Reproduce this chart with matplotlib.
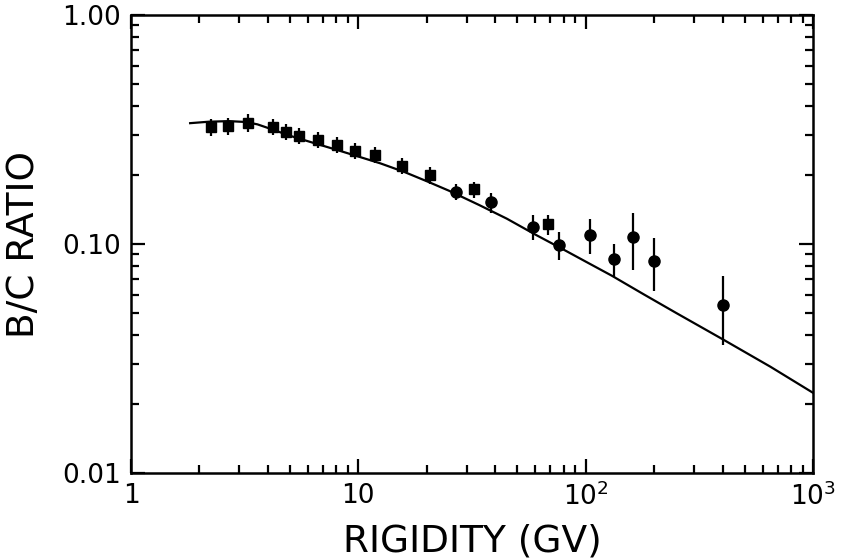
import matplotlib
matplotlib.use("Agg")
import matplotlib.pyplot as plt
from matplotlib.ticker import FixedLocator, FixedFormatter, LogLocator, NullFormatter

# Square-marker data (rigidity GV, B/C ratio, error)
sq_rigidity = [2.25, 2.68, 3.28, 4.2, 4.81, 5.48, 6.63, 8.03, 9.7, 11.8, 15.5, 20.7, 32.3, 68.5]
sq_ratio = [0.323, 0.328, 0.339, 0.325, 0.309, 0.296, 0.285, 0.271, 0.255, 0.245, 0.220, 0.200, 0.173, 0.122]
sq_err = [0.028, 0.028, 0.031, 0.027, 0.025, 0.024, 0.022, 0.021, 0.020, 0.020, 0.018, 0.017, 0.014, 0.012]

# Circle-marker data
ci_rigidity = [26.9, 38.2, 58.5, 76.6, 104.5, 133, 161.5, 200.6, 402]
ci_ratio = [0.169, 0.152, 0.119, 0.099, 0.109, 0.086, 0.107, 0.0845, 0.0542]
ci_err = [0.014, 0.015, 0.015, 0.014, 0.019, 0.014, 0.030, 0.022, 0.018]

# Model curve
curve_rigidity = [1.82, 2.2, 2.7, 3.2, 3.6, 4.2, 5, 6.3, 8, 10, 12.5, 16, 20, 25, 34, 45,
                  60, 80, 100, 130, 180, 250, 400, 650, 1000]
curve_ratio = [0.337, 0.342, 0.344, 0.341, 0.333, 0.316, 0.297, 0.277, 0.258, 0.241, 0.225,
               0.206, 0.188, 0.171, 0.148, 0.129, 0.110, 0.0945, 0.0838, 0.0728, 0.0603,
               0.0500, 0.0384, 0.0291, 0.0224]

x_ticks = [1, 10, 100, 1000]
x_ticklabels = ["1", "10", "10$^{2}$", "10$^{3}$"]
y_ticks = [0.01, 0.1, 1.0]
y_ticklabels = ["0.01", "0.10", "1.00"]

plt.rcParams['font.family'] = ['DejaVu Sans']
plt.rcParams['mathtext.default'] = 'regular'

fig = plt.figure(figsize=(8.44, 5.6), dpi=100)
ax = fig.add_axes([131/844, 1-473/560, (813-131)/844, (473-15)/560])

ax.plot(curve_rigidity, curve_ratio, color='black', lw=1.6)
ax.errorbar(sq_rigidity, sq_ratio, yerr=sq_err, fmt='s', color='black', ms=7,
            elinewidth=1.6, capsize=0)
ax.errorbar(ci_rigidity, ci_ratio, yerr=ci_err, fmt='o', color='black', ms=8,
            elinewidth=1.6, capsize=0)

ax.set_xscale('log')
ax.set_yscale('log')
ax.set_xlim(1, 1000)
ax.set_ylim(0.01, 1.0)

ax.xaxis.set_major_locator(FixedLocator(x_ticks))
ax.xaxis.set_major_formatter(FixedFormatter(x_ticklabels))
ax.yaxis.set_major_locator(FixedLocator(y_ticks))
ax.yaxis.set_major_formatter(FixedFormatter(y_ticklabels))
ax.xaxis.set_minor_locator(LogLocator(base=10, subs=range(2, 10)))
ax.yaxis.set_minor_locator(LogLocator(base=10, subs=range(2, 10)))
ax.xaxis.set_minor_formatter(NullFormatter())
ax.yaxis.set_minor_formatter(NullFormatter())

ax.tick_params(which='both', direction='in', top=True, right=True, width=1.6, colors='black')
ax.tick_params(which='major', length=10, labelsize=19)
ax.tick_params(which='minor', length=6)
ax.tick_params(axis='x', which='major', pad=7)
ax.tick_params(axis='y', which='major', pad=7)
for s in ax.spines.values():
    s.set_linewidth(1.8)

ax.set_xlabel("RIGIDITY (GV)", fontsize=27, labelpad=9)
ax.set_ylabel("B/C RATIO", fontsize=27, labelpad=15)

fig.savefig("out.png", dpi=100)
